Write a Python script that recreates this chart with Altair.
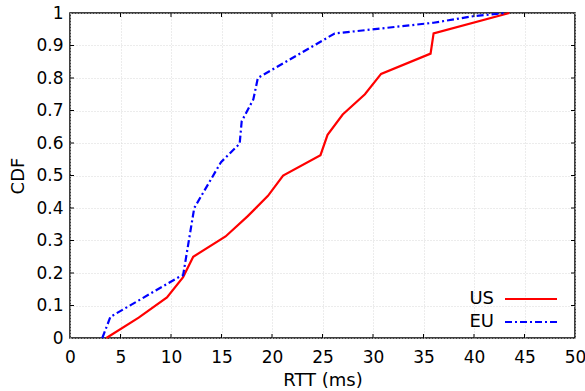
import altair as alt
import pandas as pd

US_RTT = [3.6, 6.8, 9.6, 11.2, 12.2, 15.4, 17.6, 19.6, 21.1, 24.8, 25.5, 27.0, 29.2, 30.8, 35.7, 36.0, 43.5]
US_CDF = [0, 0.0625, 0.125, 0.1875, 0.25, 0.3125, 0.375, 0.4375, 0.5, 0.5625, 0.625, 0.6875, 0.75, 0.8125, 0.875, 0.9375, 1.0]

EU_RTT = [3.2, 4.0, 10.7, 11.2, 12.3, 14.95, 16.8, 17.0, 18.15, 18.6, 22.5, 26.2, 36.0, 39.9, 43.2]
EU_CDF = [0, 0.065, 0.186, 0.193, 0.40, 0.541, 0.598, 0.667, 0.734, 0.80, 0.87, 0.937, 0.97, 0.99, 1.0]

X_TICKS = [0, 5, 10, 15, 20, 25, 30, 35, 40, 45, 50]
Y_TICKS = [0, 0.1, 0.2, 0.3, 0.4, 0.5, 0.6, 0.7, 0.8, 0.9, 1]

W, H = 505, 325
FONT = "DejaVu Sans"

us = pd.DataFrame({"rtt": US_RTT, "cdf": US_CDF, "i": range(len(US_RTT))})
eu = pd.DataFrame({"rtt": EU_RTT, "cdf": EU_CDF, "i": range(len(EU_RTT))})

xs = alt.Scale(domain=[0, 50], nice=False)
ys = alt.Scale(domain=[0, 1], nice=False)

common = dict(grid=True, gridDash=[1, 2], gridColor="#d8d8d8", tickSize=0, domain=False,
              labelFont=FONT, labelFontSize=17, labelColor="black", labelOverlap=False,
              labelFlush=False, titleFont=FONT, titleFontSize=18, titleFontWeight="normal",
              titleColor="black", format="~g")
xaxis = alt.Axis(values=X_TICKS, title="RTT (ms)", labelPadding=11, titlePadding=6, **common)
yaxis = alt.Axis(values=Y_TICKS, title="CDF", labelPadding=7, titlePadding=8, **common)

us_line = alt.Chart(us).mark_line(color="#ff0000", strokeWidth=2.2).encode(
    x=alt.X("rtt:Q", scale=xs, axis=xaxis),
    y=alt.Y("cdf:Q", scale=ys, axis=yaxis),
    order="i:Q",
)
eu_line = alt.Chart(eu).mark_line(color="#0000ff", strokeWidth=2.2, strokeDash=[7, 3, 2, 3]).encode(
    x=alt.X("rtt:Q", scale=xs, axis=xaxis),
    y=alt.Y("cdf:Q", scale=ys, axis=yaxis),
    order="i:Q",
)

xt = pd.DataFrame({"t": X_TICKS[1:-1]})
yt = pd.DataFrame({"t": Y_TICKS[1:-1]})
TL = 4
tick_b = alt.Chart(xt).mark_rule(color="black", strokeWidth=1).encode(
    x=alt.X("t:Q", scale=xs, axis=xaxis), y=alt.value(H), y2=alt.value(H - TL))
tick_t = alt.Chart(xt).mark_rule(color="black", strokeWidth=1).encode(
    x=alt.X("t:Q", scale=xs, axis=xaxis), y=alt.value(0), y2=alt.value(TL))
tick_l = alt.Chart(yt).mark_rule(color="black", strokeWidth=1).encode(
    y=alt.Y("t:Q", scale=ys, axis=yaxis), x=alt.value(0), x2=alt.value(TL))
tick_r = alt.Chart(yt).mark_rule(color="black", strokeWidth=1).encode(
    y=alt.Y("t:Q", scale=ys, axis=yaxis), x=alt.value(W), x2=alt.value(W - TL))

leg_us_text = alt.Chart(pd.DataFrame({"name": ["US"]})).mark_text(
    align="right", baseline="middle", font=FONT, fontSize=18, color="black").encode(
    text="name:N", x=alt.value(424), y=alt.value(286))
leg_eu_text = alt.Chart(pd.DataFrame({"name": ["EU"]})).mark_text(
    align="right", baseline="middle", font=FONT, fontSize=18, color="black").encode(
    text="name:N", x=alt.value(424), y=alt.value(309))
leg_us_line = alt.Chart(pd.DataFrame({"name": ["US"]})).mark_rule(color="#ff0000", strokeWidth=2.2).encode(
    x=alt.value(435), x2=alt.value(487), y=alt.value(286))
leg_eu_line = alt.Chart(pd.DataFrame({"name": ["EU"]})).mark_rule(
    color="#0000ff", strokeWidth=2.2, strokeDash=[7, 3, 2, 3]).encode(
    x=alt.value(435), x2=alt.value(487), y=alt.value(309))

chart = alt.layer(
    us_line, eu_line, tick_b, tick_t, tick_l, tick_r,
    leg_us_text, leg_eu_text, leg_us_line, leg_eu_line,
).properties(
    width=W, height=H,
    autosize=alt.AutoSizeParams(type="none"),
    padding={"left": 70, "top": 13, "right": 10, "bottom": 53},
    background="white",
).configure_view(stroke="black", strokeWidth=1.5)

chart.save("out.html", embed_options={"renderer": "svg", "actions": False})
